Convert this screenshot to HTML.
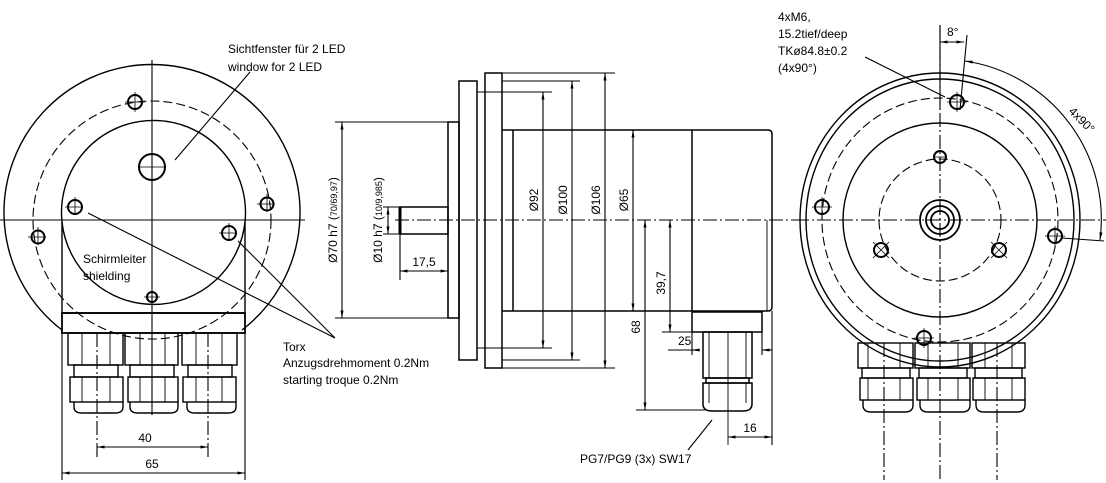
<!DOCTYPE html>
<html><head><meta charset="utf-8"><style>
html,body{margin:0;padding:0;background:#fff;width:1106px;height:483px;overflow:hidden}
svg text{font-family:"Liberation Sans",sans-serif;font-size:12px;fill:#000}
</style></head><body>
<svg width="1106" height="483" viewBox="0 0 1106 483" xmlns="http://www.w3.org/2000/svg">
<defs>
<marker id="a" viewBox="0 0 10 10" refX="10" refY="5" markerWidth="7" markerHeight="7" orient="auto-start-reverse"><path d="M0,3L10,5L0,7z" fill="#000"/></marker>
</defs>
<g fill="none" stroke="#000" stroke-width="1.1">
<!-- centerlines -->
<line x1="0" y1="220" x2="305" y2="220"/>
<line x1="395" y1="220" x2="795" y2="220" stroke-dasharray="14,3,2,3"/>
<line x1="795" y1="220" x2="1106" y2="220" stroke-dasharray="14,3,2,3"/>
<line x1="152" y1="60" x2="152" y2="415"/>
<line x1="940" y1="25" x2="940" y2="480" stroke-dasharray="14,3,2,3"/>

<!-- LEFT VIEW -->
<path d="M62,330 A148,148 0 1 1 242,330" stroke-width="1.4"/>
<circle cx="152" cy="220" r="119" stroke-dasharray="9,4"/>
<path d="M62,222 A92,92 0 1 1 245,222" stroke-width="1.4"/>
<path d="M62,222 A92,92 0 0 0 245,222" stroke-width="1.4"/>
<path d="M62,222 V313 H245 V222" stroke-width="1.4"/>
<rect x="62" y="313" width="183" height="20" stroke-width="1.8"/>
<g stroke-width="2">
<circle cx="135" cy="102" r="7"/><circle cx="152" cy="167" r="13"/><circle cx="75" cy="207" r="7"/>
<circle cx="267" cy="204" r="6.5"/><circle cx="38" cy="237" r="6.5"/><circle cx="229" cy="233" r="7"/><circle cx="152" cy="297" r="5"/>
</g>
<g stroke-width=".8">
<path d="M125,102h20M135,92v20M138,167h28M152,153v28M65,207h18M75,197v18M257,204h18M267,194v18M28,237h18M38,227v18M219,233h18M229,223v18M144,297h16"/>
</g>
<g stroke-width="1.4">
<rect x="68" y="333" width="55" height="32"/><rect x="125" y="333" width="53" height="32"/><rect x="182" y="333" width="55" height="32"/>
<rect x="74" y="365" width="44" height="12"/><rect x="130" y="365" width="44" height="12"/><rect x="188" y="365" width="44" height="12"/>
<rect x="70" y="377" width="53" height="25"/><rect x="128" y="377" width="50" height="25"/><rect x="183" y="377" width="53" height="25"/>
<path d="M74,402v5q0,6 8,6h33q8,0 8,-6v-5M130,402v5q0,6 8,6h32q8,0 8,-6v-5M187,402v5q0,6 8,6h33q8,0 8,-6v-5"/>
</g>
<path d="M82,333v32M110,333v32M140,333v32M165,333v32M196,333v32M222,333v32M82,377v25M110,377v25M140,377v25M165,377v25M196,377v25M222,377v25" stroke-width=".9"/>
<path d="M97,333V460M208,333V460" stroke-dasharray="14,3,2,3"/>
<line x1="97" y1="447" x2="208" y2="447" marker-start="url(#a)" marker-end="url(#a)"/>
<path d="M62,333V480M245,333V480"/>
<line x1="62" y1="473" x2="245" y2="473" marker-start="url(#a)" marker-end="url(#a)"/>
<path d="M175,160L250,72M88,213L335,338L238,241"/>

<!-- MIDDLE VIEW -->
<g stroke-width="1.5">
<rect x="400" y="207" width="48" height="27"/>
<rect x="448" y="122" width="11" height="196"/>
<rect x="459" y="81" width="18" height="279"/>
<rect x="485" y="73" width="17" height="295"/>
<path d="M502,130H768q4,0 4,4V307q0,4 -4,4H502M513,130V311M692,130V311"/>
<rect x="692" y="312" width="70" height="20"/>
<rect x="703" y="332" width="49" height="46"/>
<rect x="706" y="378" width="43" height="5"/>
<path d="M703,383H752V404q0,7 -9,7H712q-9,0 -9,-7z"/>
</g>
<path d="M400,207v27" stroke-width="3"/>
<path d="M477,81v279M767,220v91M477,92h8M477,348h8M709,332v46M746,332v46M709,383v20M746,383v20M728,332v113" stroke-width=".9"/>
<!-- dims -->
<path d="M335,122H448M335,318H448"/>
<line x1="342" y1="122" x2="342" y2="318" marker-start="url(#a)" marker-end="url(#a)"/>
<path d="M383,207H400M383,234H400"/>
<line x1="388" y1="207" x2="388" y2="234" marker-start="url(#a)" marker-end="url(#a)"/>
<path d="M400,234V280M448,318V280"/>
<line x1="400" y1="271" x2="448" y2="271" marker-start="url(#a)" marker-end="url(#a)"/>
<path d="M485,92H552M485,348H552M502,81H580M502,360H580M502,73H615M502,368H615"/>
<line x1="543" y1="92" x2="543" y2="348" marker-start="url(#a)" marker-end="url(#a)"/>
<line x1="572" y1="81" x2="572" y2="360" marker-start="url(#a)" marker-end="url(#a)"/>
<line x1="605" y1="73" x2="605" y2="368" marker-start="url(#a)" marker-end="url(#a)"/>
<line x1="633" y1="130" x2="633" y2="311" marker-start="url(#a)" marker-end="url(#a)"/>
<path d="M636,410H705M662,332H692"/>
<line x1="645" y1="220" x2="645" y2="410" marker-start="url(#a)" marker-end="url(#a)"/>
<line x1="670" y1="220" x2="670" y2="332" marker-start="url(#a)" marker-end="url(#a)"/>
<path d="M668,350H692M692,332V355M762,332V355"/>
<line x1="700" y1="350" x2="692" y2="350" marker-end="url(#a)"/>
<line x1="772" y1="350" x2="762" y2="350" marker-end="url(#a)"/>
<path d="M772,311V445"/>
<line x1="728" y1="437" x2="772" y2="437" marker-start="url(#a)" marker-end="url(#a)"/>
<path d="M712,420L688,450"/>

<!-- RIGHT VIEW -->
<ellipse cx="940" cy="220" rx="140" ry="147" stroke-width="1.4"/>
<ellipse cx="940" cy="220" rx="134" ry="141" stroke-width="1.4"/>
<ellipse cx="940" cy="220" rx="118" ry="122" stroke-dasharray="9,4"/>
<circle cx="940" cy="220" r="97" stroke-width="1.4"/>
<circle cx="940" cy="220" r="61" stroke-dasharray="9,4"/>
<circle cx="940" cy="220" r="20" stroke-width="1.8"/>
<circle cx="940" cy="220" r="14" stroke-width="1.8"/>
<circle cx="940" cy="220" r="9" stroke-width="1.8"/>
<g stroke-width="2">
<circle cx="957" cy="102" r="7"/><circle cx="822" cy="207" r="7"/><circle cx="1055" cy="236" r="7"/><circle cx="924" cy="338" r="7"/>
<circle cx="940" cy="157" r="6"/><circle cx="881" cy="250" r="7"/><circle cx="999" cy="250" r="7"/>
</g>
<path d="M947,102h20M957,92v20M812,207h20M822,197v20M1045,236h20M1055,226v20M914,338h20M924,328v20M934,157h12M873,242l16,16M889,242l-16,16M991,242l16,16M1007,242l-16,16" stroke-width=".8"/>
<g stroke-width="1.4">
<rect x="858" y="343" width="55" height="25"/><rect x="915" y="343" width="55" height="25"/><rect x="972" y="343" width="53" height="25"/>
<rect x="862" y="368" width="48" height="10"/><rect x="919" y="368" width="48" height="10"/><rect x="975" y="368" width="47" height="10"/>
<rect x="860" y="378" width="53" height="22"/><rect x="917" y="378" width="53" height="22"/><rect x="973" y="378" width="52" height="22"/>
<path d="M863,400v5q0,7 8,7h34q8,0 8,-7v-5M920,400v5q0,7 8,7h34q8,0 8,-7v-5M976,400v5q0,7 8,7h33q8,0 8,-7v-5"/>
</g>
<path d="M868,343v25M900,343v25M928,343v25M958,343v25M985,343v25M1012,343v25M868,378v22M900,378v22M928,378v22M958,378v22M985,378v22M1012,378v22" stroke-width=".9"/>
<path d="M884,343V480M997,343V480" stroke-dasharray="14,3,2,3"/>
<path d="M865,57L945,97M940,25V110M960,110L967,35"/>
<line x1="940" y1="42" x2="964" y2="42" marker-start="url(#a)" marker-end="url(#a)"/>
<path d="M965,61 A160,160 0 0 1 1100,240" marker-start="url(#a)" marker-end="url(#a)"/>
<path d="M1062,238L1104,241"/>
</g>
<!-- TEXT -->
<text x="228" y="53">Sichtfenster für 2 LED</text>
<text x="228" y="71">window for 2 LED</text>
<text x="83" y="263">Schirmleiter</text>
<text x="83" y="280">shielding</text>
<text x="283" y="351">Torx</text>
<text x="283" y="367">Anzugsdrehmoment 0.2Nm</text>
<text x="283" y="384">starting troque 0.2Nm</text>
<text x="145" y="442" text-anchor="middle">40</text>
<text x="152" y="468" text-anchor="middle">65</text>
<text transform="translate(337,220) rotate(-90)" text-anchor="middle">Ø70 h7 (<tspan font-size="9">70/69,97</tspan>)</text>
<text transform="translate(382,220) rotate(-90)" text-anchor="middle">Ø10 h7 (<tspan font-size="9">10/9,985</tspan>)</text>
<text x="424" y="266" text-anchor="middle">17,5</text>
<text transform="translate(538,200) rotate(-90)" text-anchor="middle">Ø92</text>
<text transform="translate(567,200) rotate(-90)" text-anchor="middle">Ø100</text>
<text transform="translate(600,200) rotate(-90)" text-anchor="middle">Ø106</text>
<text transform="translate(628,200) rotate(-90)" text-anchor="middle">Ø65</text>
<text transform="translate(640,327) rotate(-90)" text-anchor="middle">68</text>
<text transform="translate(665,283) rotate(-90)" text-anchor="middle">39,7</text>
<text x="678" y="345">25</text>
<text x="750" y="432" text-anchor="middle">16</text>
<text x="580" y="463">PG7/PG9 (3x) SW17</text>
<text x="778" y="21">4xM6,</text>
<text x="778" y="38">15.2tief/deep</text>
<text x="778" y="55">TKø84.8±0.2</text>
<text x="778" y="72">(4x90°)</text>
<text x="947" y="36">8°</text>
<text transform="translate(1068,112) rotate(45)">4x90°</text>
</svg>
</body></html>
